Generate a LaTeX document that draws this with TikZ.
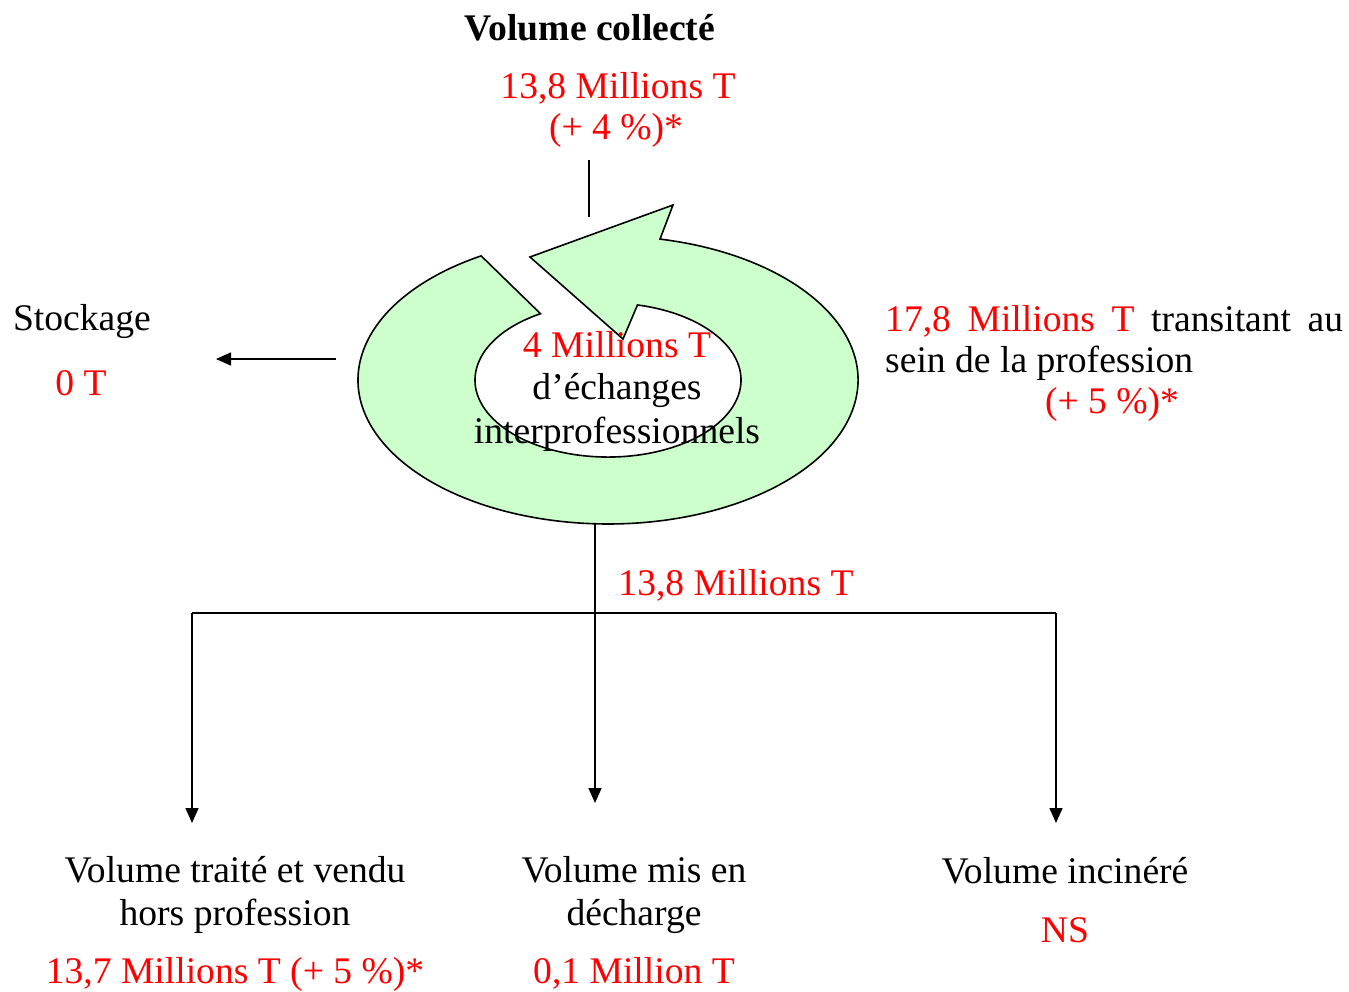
\documentclass[tikz,border=0pt]{standalone}
\usepackage{fontspec}
\setmainfont{Liberation Serif}
\usetikzlibrary{arrows.meta}
\definecolor{ringgreen}{HTML}{CCFFCC}
\begin{document}
\begin{tikzpicture}[x=1pt,y=-1pt,
  txt/.style={anchor=base,inner sep=0pt,font=\fontsize{37.6}{43}\selectfont},
  redtxt/.style={txt,text=red},
  conn/.style={line width=1.6pt,black},
  arr/.style={conn,-{Triangle[length=15pt,width=13pt]}}]
\useasboundingbox (0,0) rectangle (1349,991);
% ring arrow
\draw[line width=1.6pt,fill=ringgreen,line join=miter]
  (660,239.1) arc[start angle=-78,end angle=239.5,x radius=250,y radius=144]
  -- (540.5,313.7) arc[start angle=239.5,end angle=-77.2,x radius=133,y radius=77]
  -- (623,339) -- (530,257) -- (673,205) -- cycle;
% texts top
\node[txt,font=\fontsize{37.6}{43}\selectfont\bfseries] (vc) at (590,40) {Volume collecté};
\node[redtxt] (vc1) at (618,98) {13,8 Millions T};
\node[redtxt] (vc2) at (616,139) {(+ 4 \%)*};
% inner text
\node[redtxt] (ex1) at (617,357) {4 Millions T};
\node[txt] (ex2) at (617,399) {d’échanges};
\node[txt] (ex3) at (617,443) {interprofessionnels};
% stockage
\node[txt] (st1) at (82,330) {Stockage};
\node[redtxt] (st2) at (81,395) {0 T};
% right text
\node[txt,anchor=base west] (tr1) at (885,331) {\hbox to 458pt{\textcolor{red}{17,8}\hfill\textcolor{red}{Millions}\hfill\textcolor{red}{T}\hfill transitant\hfill au}};
\node[txt,anchor=base west] (tr2) at (885,372) {sein de la profession};
\node[redtxt] (tr3) at (1112,413) {(+ 5 \%)*};
% middle label
\node[redtxt] (mid) at (736,595) {13,8 Millions T};
% bottom texts
\node[txt] (b1a) at (235,882) {Volume traité et vendu};
\node[txt] (b1b) at (235,925) {hors profession};
\node[redtxt] (b1c) at (235,983) {13,7 Millions T (+ 5 \%)*};
\node[txt] (b2a) at (634,882) {Volume mis en};
\node[txt] (b2b) at (634,925) {décharge};
\node[redtxt] (b2c) at (634,983) {0,1 Million T};
\node[txt] (b3a) at (1065,883) {Volume incinéré};
\node[redtxt] (b3b) at (1065,942) {NS};
% coordinates for connectors
\coordinate (topA) at (589,160);
\coordinate (topB) at (589,217);
\coordinate (stA) at (336,359);
\coordinate (stB) at (216,359);
\coordinate (ringbot) at (595,524);
\coordinate (midend) at (595,803);
\coordinate (hl) at (192,613);
\coordinate (hr) at (1056,613);
\coordinate (lend) at (192,823);
\coordinate (rend) at (1056,823);
% connectors
\draw[conn] (topA) -- (topB);
\draw[arr] (stA) -- (stB);
\draw[arr] (ringbot) -- (midend);
\draw[conn] (hl) -- (hr);
\draw[arr] (hl) -- (lend);
\draw[arr] (hr) -- (rend);
\end{tikzpicture}
\end{document}
